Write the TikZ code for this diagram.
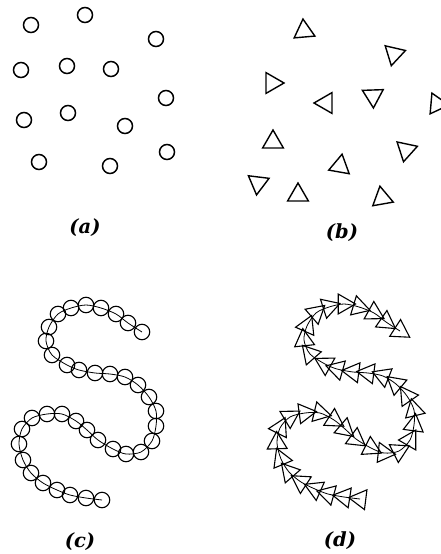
\documentclass[tikz,border=0pt]{standalone}
\usepackage{fontspec}
\newfontfamily\labfont{DejaVu Serif}
\usetikzlibrary{shapes.geometric,calc}
\begin{document}
\begin{tikzpicture}[x=1pt,y=-1pt,
  acirc/.style={circle,draw,line width=1.5pt,minimum size=15pt,inner sep=0pt},
  btri/.style={regular polygon,regular polygon sides=3,draw,line width=1.4pt,minimum size=24pt,inner sep=0pt},
  ccirc/.style={circle,draw,line width=1.1pt,minimum size=15.5pt,inner sep=0pt},
  dtri/.style={regular polygon,regular polygon sides=3,draw,line width=1.1pt,minimum size=23pt,inner sep=0pt},
  spine/.style={line width=0.8pt},
  lab/.style={font=\labfont\bfseries\itshape\fontsize{19.5}{22}\selectfont,inner sep=0pt}]
\useasboundingbox[fill=white] (0,0) rectangle (441,554);
% (a) circles
\node[acirc] (a1) at (31,25) {};
\node[acirc] (a2) at (85,15) {};
\node[acirc] (a3) at (156,39) {};
\node[acirc] (a4) at (21,70) {};
\node[acirc] (a5) at (67,66) {};
\node[acirc] (a6) at (111,69) {};
\node[acirc] (a7) at (166,98) {};
\node[acirc] (a8) at (24,120) {};
\node[acirc] (a9) at (68,113) {};
\node[acirc] (a10) at (125,126) {};
\node[acirc] (a11) at (39,162) {};
\node[acirc] (a12) at (110,166) {};
\node[acirc] (a13) at (167,152) {};
% (b) triangles
\node[btri,rotate=5] (b1) at (304,31) {};
\node[btri,rotate=167] (b2) at (394,54) {};
\node[btri,rotate=-90] (b3) at (272,83) {};
\node[btri,rotate=90] (b4) at (326,103) {};
\node[btri,rotate=182] (b5) at (373,96) {};
\begin{scope}
\clip (0,0) rectangle (441,554);
\node[btri,rotate=-95] (b6) at (437,104) {};
\end{scope}
\node[btri,rotate=0] (b7) at (273,142) {};
\node[btri,rotate=168] (b8) at (406,150) {};
\node[btri,rotate=-10] (b9) at (340,166) {};
\node[btri,rotate=173] (b10) at (258,183) {};
\node[btri,rotate=0] (b11) at (298,195) {};
\node[btri,rotate=10] (b12) at (382,198) {};
% (c) chain of circles
\draw[spine] plot[smooth] coordinates {(142,332) (128,323) (116,314) (101,308) (86,305) (71,308) (58,314) (49,327) (46,341) (52,355) (67,365) (79,370) (95,373) (110,374) (125,377) (138,385) (149,397) (156,411) (156,426) (152,441) (141,452) (126,454) (113,449) (98,440) (87,430) (76,421) (62,414) (47,414) (32,418) (22,429) (19,444) (23,460) (31,473) (43,483) (57,490) (70,495) (86,498) (102,500)};
\foreach \x/\y [count=\i] in {142/332,128/323,116/314,101/308,86/305,71/308,58/314,49/327,46/341,52/355,67/365,79/370,95/373,110/374,125/377,138/385,149/397,156/411,156/426,152/441,141/452,126/454,113/449,98/440,87/430,76/421,62/414,47/414,32/418,22/429,19/444,23/460,31/473,43/483,57/490,70/495,86/498,102/500}
  \node[ccirc] (c\i) at (\x,\y) {};
% (d) chain of oriented triangles
\begin{scope}[shift={(258,-1)}]
\draw[spine] plot[smooth] coordinates {(142,332) (128,323) (116,314) (101,308) (86,305) (71,308) (58,314) (49,327) (46,341) (52,355) (67,365) (79,370) (95,373) (110,374) (125,377) (138,385) (149,397) (156,411) (156,426) (152,441) (141,452) (126,454) (113,449) (98,440) (87,430) (76,421) (62,414) (47,414) (32,418) (22,429) (19,444) (23,460) (31,473) (43,483) (57,490) (70,495) (86,498) (102,500)};
\foreach \x/\y [count=\i] in {142/332,128/323,116/314,101/308,86/305,71/308,58/314,49/327,46/341,52/355,67/365,79/370,95/373,110/374,125/377,138/385,149/397,156/411,156/426,152/441,141/452,126/454,113/449,98/440,87/430,76/421,62/414,47/414,32/418,22/429,19/444,23/460,31/473,43/483,57/490,70/495,86/498,102/500}
  \coordinate (q\i) at (\x,\y);
\end{scope}
\foreach \i in {1,...,38}{
  \pgfmathtruncatemacro\prv{max(\i-1,1)}
  \pgfmathtruncatemacro\nxt{min(\i+1,38)}
  \path let \p1=(q\prv), \p2=(q\nxt), \n1={atan2(\y1-\y2,\x1-\x2)} in
    node[dtri,rotate=\n1-90] (d\i) at (q\i) {};
}
% labels
\node[lab] (la) at (85,228) {(a)};
\node[lab] (lb) at (342,233) {(b)};
\node[lab] (lc) at (80,542) {(c)};
\node[lab] (ld) at (340,541) {(d)};
\end{tikzpicture}
\end{document}
